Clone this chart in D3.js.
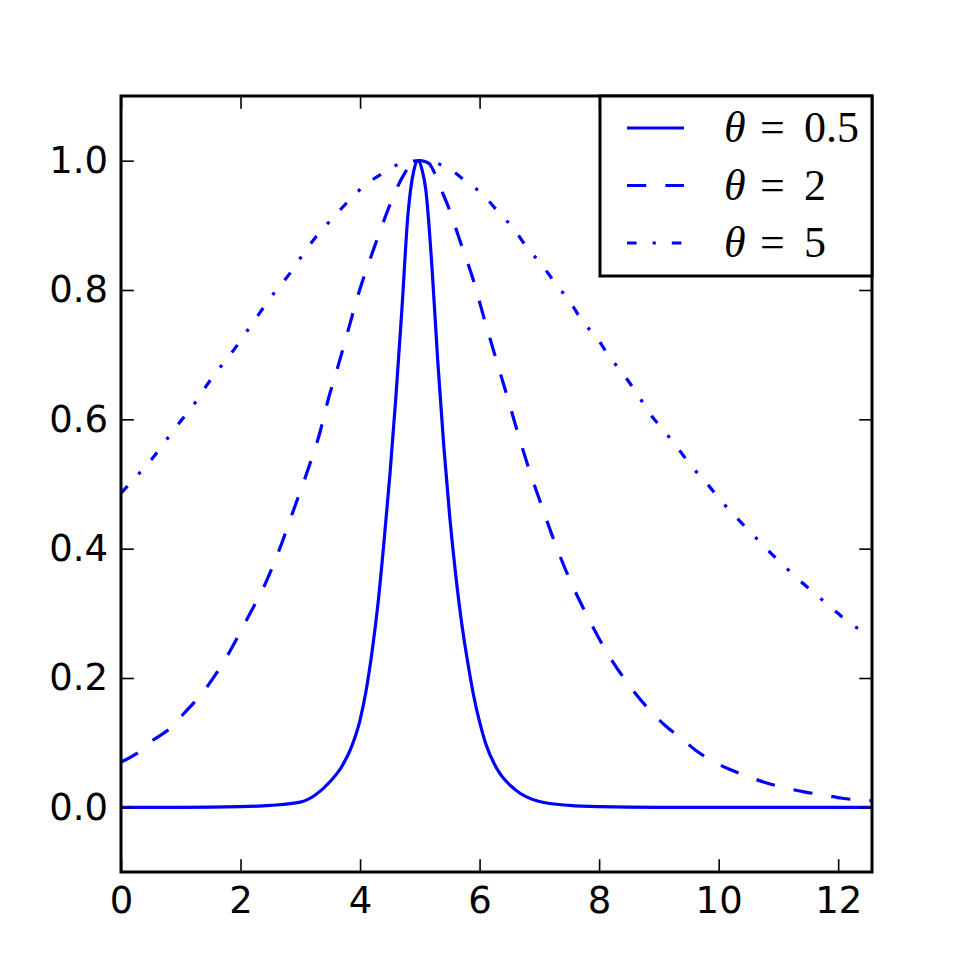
<!DOCTYPE html>
<html>
<head>
<meta charset="utf-8">
<script src="https://cdn.jsdelivr.net/npm/d3@7/dist/d3.min.js"></script>
<style>
  body { margin: 0; background: #fff; }
  svg { display: block; }
</style>
</head>
<body>
<div id="chart"></div>
<script>
// values
var labels = ["0.5", "2", "5"];
var dashes = [null, "19.2,19.2", "9.6,16,3.2,16"];

var x05 = [0, 1, 2, 2.5, 3, 3.25, 3.5, 3.7, 3.85, 4.0, 4.1, 4.2, 4.3, 4.4, 4.5, 4.6, 4.7, 4.8, 4.9, 4.97, 5.04, 5.1, 5.2, 5.3, 5.4, 5.5, 5.6, 5.7, 5.8, 5.9, 6.0, 6.1, 6.3, 6.6, 7, 7.5, 8, 9, 12.566];
var y05 = [0, 0, 0.001, 0.003, 0.008, 0.019, 0.04, 0.064, 0.092, 0.135, 0.18, 0.24, 0.315, 0.41, 0.515, 0.635, 0.77, 0.915, 0.985, 1.0, 0.985, 0.955, 0.84, 0.69, 0.56, 0.45, 0.36, 0.285, 0.225, 0.173, 0.132, 0.099, 0.058, 0.027, 0.009, 0.003, 0.001, 0, 0];

var x2 = [0, 0.26, 0.54, 0.82, 1.04, 1.26, 1.46, 1.82, 2.12, 2.43, 2.68, 2.9, 3.12, 3.32, 3.48, 3.6, 3.76, 3.98, 4.23, 4.43, 4.57, 4.73, 4.84, 5.0, 5.15, 5.21, 5.34, 5.48, 5.68, 5.89, 6.07, 6.26, 6.46, 6.63, 6.83, 7.04, 7.26, 7.51, 7.79, 8.09, 8.46, 8.87, 9.1, 9.37, 9.62, 9.93, 10.18, 10.51, 10.79, 11.12, 11.43, 11.76, 12.07, 12.566];
var y2 = [0.07, 0.083, 0.104, 0.122, 0.144, 0.166, 0.189, 0.241, 0.293, 0.349, 0.406, 0.463, 0.52, 0.577, 0.635, 0.672, 0.724, 0.796, 0.864, 0.915, 0.948, 0.978, 0.993, 1.0, 0.996, 0.988, 0.959, 0.928, 0.874, 0.817, 0.758, 0.698, 0.636, 0.582, 0.522, 0.466, 0.409, 0.352, 0.298, 0.246, 0.194, 0.148, 0.127, 0.107, 0.088, 0.07, 0.059, 0.047, 0.038, 0.03, 0.024, 0.019, 0.014, 0.01];

var x5 = [0, 0.31, 0.51, 0.79, 0.98, 1.25, 1.43, 1.69, 1.9, 2.15, 2.37, 2.59, 2.82, 3.05, 3.26, 3.53, 3.76, 4.07, 4.37, 4.72, 5.0, 5.46, 5.76, 6.07, 6.32, 6.57, 6.79, 7.04, 7.28, 7.51, 7.72, 7.97, 8.18, 8.42, 8.64, 8.84, 9.09, 9.32, 9.57, 9.81, 10.05, 10.31, 10.57, 10.83, 11.11, 11.39, 11.68, 11.97, 12.27, 12.566];
var y5 = [0.486, 0.517, 0.538, 0.572, 0.595, 0.627, 0.652, 0.684, 0.709, 0.742, 0.771, 0.799, 0.825, 0.856, 0.882, 0.91, 0.933, 0.961, 0.98, 0.997, 1.0, 0.989, 0.969, 0.946, 0.92, 0.895, 0.866, 0.839, 0.809, 0.782, 0.752, 0.725, 0.696, 0.668, 0.639, 0.61, 0.582, 0.555, 0.525, 0.5, 0.473, 0.447, 0.422, 0.397, 0.372, 0.348, 0.325, 0.302, 0.28, 0.268];

var xTicks = [0, 2, 4, 6, 8, 10, 12];
var yTicks = [0.0, 0.2, 0.4, 0.6, 0.8, 1.0];

var seriesX = [x05, x2, x5];
var seriesY = [y05, y2, y5];

var width = 969, height = 969;
var margin = {left: 121, top: 96, right: 97, bottom: 97};
var w = width - margin.left - margin.right;
var h = height - margin.top - margin.bottom;
var blue = "#0000ff";

var x = d3.scaleLinear().domain([0, 12.566]).range([0, w]);
var y = d3.scaleLinear().domain([-0.1, 1.1]).range([h, 0]);

var svg = d3.select("#chart").append("svg")
    .attr("width", width)
    .attr("height", height);

var g = svg.append("g")
    .attr("transform", "translate(" + margin.left + "," + margin.top + ")");

g.append("clipPath").attr("id", "clip")
  .append("rect").attr("width", w).attr("height", h);

var line = d3.line()
    .x(function(d) { return x(d[0]); })
    .y(function(d) { return y(d[1]); })
    .curve(d3.curveMonotoneX);

seriesX.forEach(function(xs, i) {
    var pts = xs.map(function(v, j) { return [v, seriesY[i][j]]; });
    g.append("path")
        .attr("clip-path", "url(#clip)")
        .attr("d", line(pts))
        .attr("fill", "none")
        .attr("stroke", blue)
        .attr("stroke-width", 3.2)
        .attr("stroke-dasharray", dashes[i]);
});

// ticks, inward on all four sides
function styleAxis(sel) {
    sel.select(".domain").remove();
    sel.selectAll("line").attr("stroke", "#000").attr("stroke-width", 1.6);
    sel.selectAll("text")
        .attr("fill", "#000")
        .style("font-family", "'DejaVu Sans', sans-serif")
        .style("font-size", "37px");
}

g.append("g").attr("transform", "translate(0," + h + ")")
    .call(d3.axisBottom(x).tickValues(xTicks).tickSizeInner(-12.8).tickPadding(15).tickFormat(d3.format("d")))
    .call(styleAxis);
g.append("g")
    .call(d3.axisTop(x).tickValues(xTicks).tickSizeInner(-12.8).tickFormat(""))
    .call(styleAxis);
g.append("g")
    .call(d3.axisLeft(y).tickValues(yTicks).tickSizeInner(-12.8).tickPadding(13).tickFormat(d3.format(".1f")))
    .call(styleAxis);
g.append("g").attr("transform", "translate(" + w + ",0)")
    .call(d3.axisRight(y).tickValues(yTicks).tickSizeInner(-12.8).tickFormat(""))
    .call(styleAxis);

g.append("rect")
    .attr("width", w).attr("height", h)
    .attr("fill", "none")
    .attr("stroke", "#000")
    .attr("stroke-width", 3);

// legend
var lg = g.append("g").attr("transform", "translate(" + (w - 272) + ",0)");
lg.append("rect")
    .attr("width", 272).attr("height", 180)
    .attr("fill", "#fff")
    .attr("stroke", "#000")
    .attr("stroke-width", 3);

labels.forEach(function(lab, i) {
    var cy = 32 + i * 57.5;
    lg.append("line")
        .attr("x1", 27).attr("x2", 84)
        .attr("y1", cy).attr("y2", cy)
        .attr("stroke", blue)
        .attr("stroke-width", 3.2)
        .attr("stroke-dasharray", dashes[i]);
    var t = lg.append("text")
        .attr("y", cy + 14)
        .style("font-family", "'Liberation Serif', serif")
        .style("font-size", "44px")
        .attr("fill", "#000");
    t.append("tspan").attr("x", 124).style("font-style", "italic").text("θ");
    t.append("tspan").attr("x", 160).attr("textLength", 29).text("=");
    t.append("tspan").attr("x", 204).text(lab);
});
</script>
</body>
</html>
